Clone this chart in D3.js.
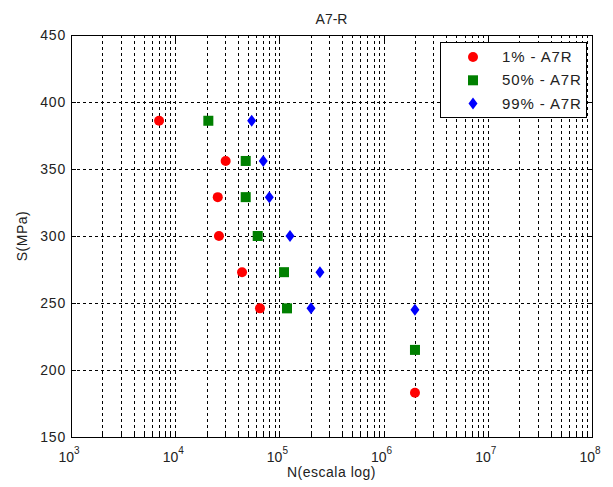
<!DOCTYPE html>
<html><head><meta charset="utf-8">
<script src="https://cdn.jsdelivr.net/npm/d3@7"></script>
<style>body{margin:0;background:#fff;} svg{display:block;font-family:Arial,"Liberation Sans",sans-serif;}</style>
</head><body>
<svg id="c" width="613" height="487"></svg>
<script>
const title = "A7-R";
const xLabel = "N(escala log)";
const yLabel = "S(MPa)";
const yTicks = [150, 200, 250, 300, 350, 400, 450];
const xDecades = [3, 4, 5, 6, 7, 8];
const seriesNames = ["1% - A7R", "50% - A7R", "99% - A7R"];
const stress = [386, 356, 329, 300, 273, 246];
const n1 = [7000, 30500, 25600, 26300, 43800, 65100];
const n50 = [20800, 47500, 47500, 61900, 110700, 118300];
const n99 = [54200, 70000, 80000, 126400, 245000, 201000];
const extraN = [2.0e6, 2.0e6, 2.0e6];
const extraS = [183, 215, 245];

const svg = d3.select("#c");
const L = 71, R = 592, T = 35, B = 437;
const x = d3.scaleLog().domain([1e3, 1e8]).range([L, R]);
const y = d3.scaleLinear().domain([150, 450]).range([B, T]);
const ink = "#222";

// grid
const g = svg.append("g");
const minor = [];
for (let d = 3; d < 8; d++) for (let k = 1; k <= 9; k++) { const v = k * Math.pow(10, d); if (v > 1e3) minor.push(v); }
g.selectAll("line.vx").data(minor.filter(v => v < 1e8)).enter().append("line")
  .attr("x1", d => Math.round(x(d)) + 0.5).attr("x2", d => Math.round(x(d)) + 0.5)
  .attr("y1", T).attr("y2", B).attr("stroke", "#000").attr("stroke-width", 1).attr("stroke-dasharray", "3,3");
g.selectAll("line.hy").data(yTicks.slice(1, -1)).enter().append("line")
  .attr("y1", d => Math.round(y(d)) + 0.5).attr("y2", d => Math.round(y(d)) + 0.5)
  .attr("x1", L).attr("x2", R).attr("stroke", "#000").attr("stroke-width", 1).attr("stroke-dasharray", "3,3");

// ticks inward
const tk = svg.append("g").attr("stroke", "#000");
minor.filter(v => v < 1e8).forEach(v => {
  const xx = Math.round(x(v)) + 0.5; const len = Number.isInteger(Math.log10(v)) ? 6 : 3;
  tk.append("line").attr("x1", xx).attr("x2", xx).attr("y1", B).attr("y2", B - len);
  tk.append("line").attr("x1", xx).attr("x2", xx).attr("y1", T).attr("y2", T + len);
});
yTicks.forEach(v => {
  const yy = Math.round(y(v)) + 0.5;
  tk.append("line").attr("x1", L).attr("x2", L + 5).attr("y1", yy).attr("y2", yy);
  tk.append("line").attr("x1", R).attr("x2", R - 5).attr("y1", yy).attr("y2", yy);
});

// axis frame
svg.append("rect").attr("x", L + 0.5).attr("y", T + 0.5).attr("width", R - L).attr("height", B - T)
  .attr("fill", "none").attr("stroke", "#000").attr("stroke-width", 1);

// y tick labels
svg.append("g").selectAll("text").data(yTicks).enter().append("text")
  .attr("x", L - 5).attr("y", d => y(d) + 5).attr("text-anchor", "end")
  .attr("font-size", 14).attr("letter-spacing", 0.8).attr("fill", ink).text(d => d);

// x tick labels
const xl = svg.append("g");
xDecades.forEach(d => {
  const t = xl.append("text").attr("x", x(Math.pow(10, d)) - 2).attr("y", 462).attr("text-anchor", "middle")
    .attr("font-size", 14).attr("fill", ink);
  t.append("tspan").text("10");
  t.append("tspan").attr("dy", -8).attr("font-size", 10).text(d);
});

// labels
svg.append("text").attr("x", (L + R) / 2).attr("y", 24).attr("text-anchor", "middle").attr("font-size", 14).attr("fill", ink).text(title);
svg.append("text").attr("x", (L + R) / 2).attr("y", 477).attr("text-anchor", "middle").attr("font-size", 14).attr("letter-spacing", 0.5).attr("fill", ink).text(xLabel);
svg.append("text").attr("transform", `translate(27,${(T + B) / 2}) rotate(-90)`).attr("text-anchor", "middle").attr("font-size", 14).attr("letter-spacing", 0.5).attr("fill", ink).text(yLabel);

// markers
const colors = ["#ff0000", "#008000", "#0000ff"];
function marker(sel, i) {
  if (i === 0) sel.append("circle").attr("r", 5).attr("fill", colors[0]);
  else if (i === 1) sel.append("rect").attr("x", -5).attr("y", -5).attr("width", 10).attr("height", 10).attr("fill", colors[1]);
  else sel.append("path").attr("d", "M0,-6L4.5,0L0,6L-4.5,0Z").attr("fill", colors[2]);
}
const sets = [n1, n50, n99];
sets.forEach((ns, i) => {
  const pts = ns.map((n, j) => [n, stress[j]]).concat([[extraN[i], extraS[i]]]);
  pts.forEach(p => {
    const m = svg.append("g").attr("transform", `translate(${x(p[0])},${y(p[1])})`);
    marker(m, i);
  });
});

// legend
const lg = svg.append("g");
lg.append("rect").attr("x", 440.5).attr("y", 42.5).attr("width", 146).attr("height", 75).attr("fill", "#fff").attr("stroke", "#000");
seriesNames.forEach((s, i) => {
  const yy = 57 + i * 23.3;
  const m = lg.append("g").attr("transform", `translate(473,${yy})`);
  marker(m, i);
  lg.append("text").attr("x", 502).attr("y", yy + 5).attr("font-size", 15).attr("letter-spacing", 0.9).attr("fill", ink).text(s);
});
</script>
</body></html>
